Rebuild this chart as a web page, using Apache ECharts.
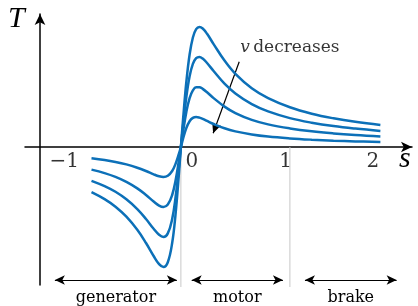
<!doctype html>
<html>
<head>
<meta charset="UTF-8">
<title>T-s</title>
<script src="https://cdn.jsdelivr.net/npm/echarts@6/dist/echarts.min.js"></script>
<style>
html,body{margin:0;padding:0;background:#fff;}
#main{width:418px;height:306px;}
</style>
</head>
<body>
<div id="main"></div>
<script>
// slip values (shared by all curves)
var slip = [-0.82,-0.7,-0.6,-0.5,-0.4,-0.32,-0.25,-0.2,-0.16,-0.12,-0.08,-0.05,-0.02,0,
            0.02,0.05,0.08,0.11,0.14,0.17,0.2,0.24,0.3,0.4,0.5,0.65,0.8,1.0,1.2,1.4,1.6,1.83];
// torque, highest voltage first
var torque1 = [-0.451,-0.521,-0.597,-0.697,-0.828,-0.96,-1.09,-1.171,-1.2,-1.152,-0.96,-0.683,-0.295,0,
               0.278,0.65,0.925,1.095,1.178,1.2,1.185,1.132,1.029,0.864,0.731,0.587,0.488,0.397,0.333,0.287,0.252,0.221];
var torque2 = [-0.338,-0.391,-0.448,-0.523,-0.621,-0.72,-0.818,-0.878,-0.9,-0.864,-0.72,-0.512,-0.221,0,
               0.215,0.5,0.707,0.831,0.888,0.9,0.884,0.84,0.76,0.634,0.536,0.429,0.356,0.289,0.243,0.209,0.184,0.161];
var torque3 = [-0.226,-0.261,-0.299,-0.349,-0.414,-0.48,-0.545,-0.586,-0.6,-0.576,-0.48,-0.342,-0.148,0,
               0.152,0.351,0.489,0.566,0.597,0.597,0.581,0.547,0.489,0.404,0.339,0.271,0.226,0.186,0.157,0.136,0.12,0.106];
var torque4 = [-0.113,-0.13,-0.149,-0.174,-0.207,-0.24,-0.273,-0.293,-0.3,-0.288,-0.24,-0.171,-0.074,0,
               0.084,0.19,0.258,0.291,0.3,0.294,0.282,0.261,0.23,0.187,0.156,0.125,0.104,0.086,0.073,0.063,0.056,0.05];

// tick labels as they sit under the s axis
var tickAt = [-1.07, 0.1, 0.96, 1.76];
var tickText = ['\u22121', '0', '1', '2'];

// operating regions
var dividers = [0, 1];
var regionNames = ['generator', 'motor', 'brake'];
var regionFrom = [-1.156, 0.099, 1.138];
var regionTo = [-0.037, 0.936, 1.979];

var blue = '#0c70b8';
var serif = 'DejaVu Serif';

function pairs(ys) {
  var out = [];
  for (var i = 0; i < slip.length; i++) out.push([slip[i], ys[i]]);
  return out;
}
function curve(ys) {
  return {
    type: 'line', data: pairs(ys), showSymbol: false, smooth: 0.4,
    lineStyle: {color: blue, width: 2.5}, z: 5, silent: true
  };
}

var series = [];
dividers.forEach(function (d) {
  series.push({
    type: 'line', data: [[d, 0], [d, -1.4]], showSymbol: false, clip: false, silent: true,
    lineStyle: {color: '#c8c8c8', width: 1}, z: 1
  });
});
[torque1, torque2, torque3, torque4].forEach(function (t) { series.push(curve(t)); });

// region arrows + annotation arrow
series.push({
  type: 'line', data: [[0, 0]], showSymbol: false, silent: true,
  lineStyle: {opacity: 0},
  markLine: {
    silent: true,
    symbol: ['arrow', 'arrow'],
    symbolSize: [7, 10],
    lineStyle: {color: '#000', width: 1.2, type: 'solid'},
    label: {show: true, position: 'insideMiddleBottom', distance: 10, formatter: '{b}',
            color: '#000', fontFamily: serif, fontSize: 16},
    data: regionNames.map(function (n, i) {
      return [{name: n, coord: [regionFrom[i], -1.33]}, {coord: [regionTo[i], -1.33]}];
    }).concat([[
      {coord: [0.535, 0.853], symbol: 'none', label: {show: false}},
      {coord: [0.296, 0.137], symbol: 'arrow'}
    ]])
  }
});

// tick labels
series.push({
  type: 'scatter', symbolSize: 0, silent: true,
  data: tickAt.map(function (x, i) { return {name: tickText[i], value: [x, -0.15]}; }),
  label: {show: true, position: 'inside', formatter: '{b}', color: '#000',
          fontFamily: serif, fontSize: 20}
});

// annotation text
series.push({
  type: 'scatter', symbolSize: 0, silent: true,
  data: [{name: 'v decreases', value: [1.0, 0.99]}],
  label: {show: true, position: 'inside', color: '#000',
          formatter: '{v|v} {t|decreases}',
          rich: {v: {fontFamily: serif, fontStyle: 'italic', fontSize: 17, color: '#000'},
                 t: {fontFamily: serif, fontSize: 17, color: '#000'}}}
});

var chart = echarts.init(document.getElementById('main'), null, {renderer: 'canvas'});
chart.setOption({
  animation: false,
  backgroundColor: '#fff',
  grid: {left: 25, right: 6, top: 14, bottom: 21, containLabel: false},
  xAxis: {
    type: 'value', min: -1.43, max: 2.12,
    axisLine: {onZero: true, symbol: ['none', 'arrow'], symbolSize: [8, 11],
               lineStyle: {color: '#000', width: 1.5}},
    axisTick: {show: false}, axisLabel: {show: false}, splitLine: {show: false}
  },
  yAxis: {
    type: 'value', min: -1.38, max: 1.33, offset: -15,
    axisLine: {show: true, onZero: false, symbol: ['none', 'arrow'], symbolSize: [8, 11],
               lineStyle: {color: '#000', width: 1.5}},
    axisTick: {show: false}, axisLabel: {show: false}, splitLine: {show: false}
  },
  graphic: [
    {type: 'text', left: 8, top: 4, style: {text: 'T', font: 'italic 30px "Liberation Serif"', fill: '#000'}},
    {type: 'text', left: 399, top: 144, style: {text: 's', font: 'italic 30px "Liberation Serif"', fill: '#000'}}
  ],
  series: series
});
</script>
</body>
</html>
